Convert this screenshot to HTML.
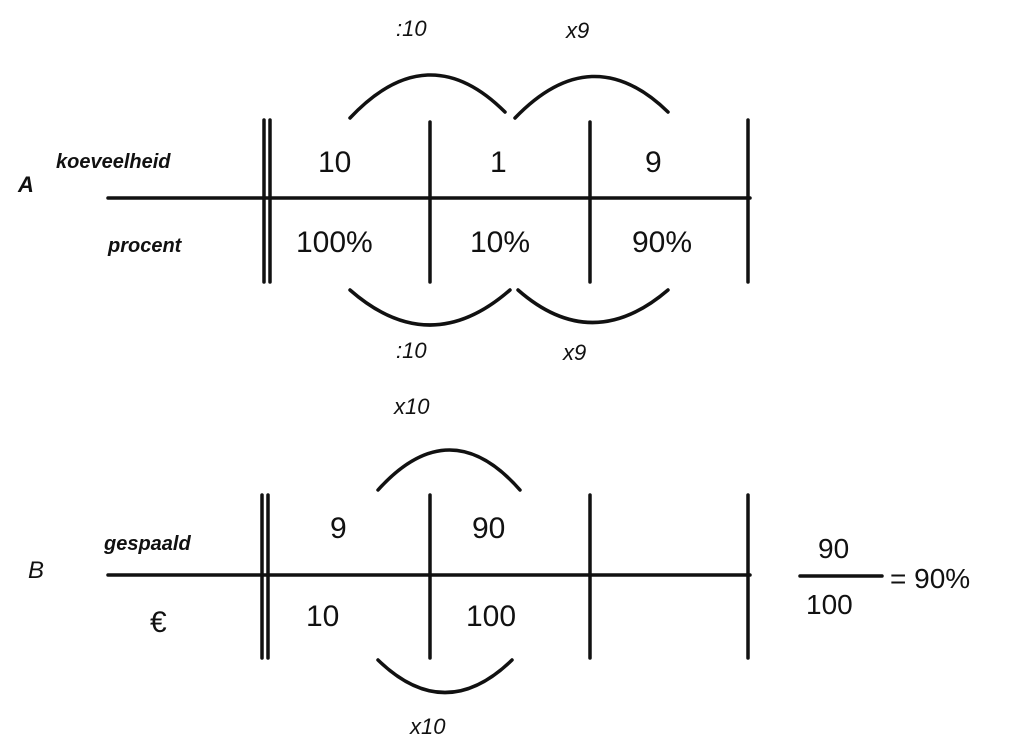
<!DOCTYPE html>
<html><head><style>
html,body{margin:0;padding:0;background:#fff;}
svg{display:block}
text{font-family:"Liberation Sans",sans-serif;font-style:italic;fill:#111;}
text.n{font-style:normal;}
</style></head><body>
<svg width="1024" height="747" viewBox="0 0 1024 747" xmlns="http://www.w3.org/2000/svg">
<g stroke="#111" stroke-width="3.5" fill="none" stroke-linecap="round">
<line x1="108" y1="198" x2="750" y2="198"/>
<line x1="264" y1="120" x2="264" y2="282"/>
<line x1="270" y1="120" x2="270" y2="282"/>
<line x1="430" y1="122" x2="430" y2="282"/>
<line x1="590" y1="122" x2="590" y2="282"/>
<line x1="748" y1="120" x2="748" y2="282"/>
<path d="M350 118 Q428 35 505 112"/>
<path d="M515 118 Q592 38 668 112"/>
<path d="M350 290 Q430 360 510 290"/>
<path d="M518 290 Q592 355 668 290"/>
<line x1="108" y1="575" x2="750" y2="575"/>
<line x1="262" y1="495" x2="262" y2="658"/>
<line x1="268" y1="495" x2="268" y2="658"/>
<line x1="430" y1="495" x2="430" y2="658"/>
<line x1="590" y1="495" x2="590" y2="658"/>
<line x1="748" y1="495" x2="748" y2="658"/>
<path d="M378 490 Q450 410 520 490"/>
<path d="M378 660 Q445 725 512 660"/>
<line x1="800" y1="576" x2="882" y2="576"/>
</g>
<text x="18" y="192" font-size="22" font-weight="bold">A</text>
<text x="56" y="168" font-size="20" font-weight="bold">koeveelheid</text>
<text x="108" y="252" font-size="20" font-weight="bold">procent</text>
<text class="n" x="318" y="172" font-size="30">10</text>
<text class="n" x="490" y="172" font-size="30">1</text>
<text class="n" x="645" y="172" font-size="30">9</text>
<text class="n" x="296" y="252" font-size="30">100%</text>
<text class="n" x="470" y="252" font-size="30">10%</text>
<text class="n" x="632" y="252" font-size="30">90%</text>
<text x="396" y="36" font-size="22">:10</text>
<text x="566" y="38" font-size="22">x9</text>
<text x="396" y="358" font-size="22">:10</text>
<text x="563" y="360" font-size="22">x9</text>
<text x="28" y="578" font-size="24">B</text>
<text x="104" y="550" font-size="20" font-weight="bold">gespaald</text>
<text class="n" x="150" y="632" font-size="30">€</text>
<text class="n" x="330" y="538" font-size="30">9</text>
<text class="n" x="472" y="538" font-size="30">90</text>
<text class="n" x="306" y="626" font-size="30">10</text>
<text class="n" x="466" y="626" font-size="30">100</text>
<text x="394" y="414" font-size="22">x10</text>
<text x="410" y="734" font-size="22">x10</text>
<text class="n" x="818" y="558" font-size="28">90</text>
<text class="n" x="806" y="614" font-size="28">100</text>
<text class="n" x="890" y="588" font-size="28">= 90%</text>
</svg>
</body></html>
